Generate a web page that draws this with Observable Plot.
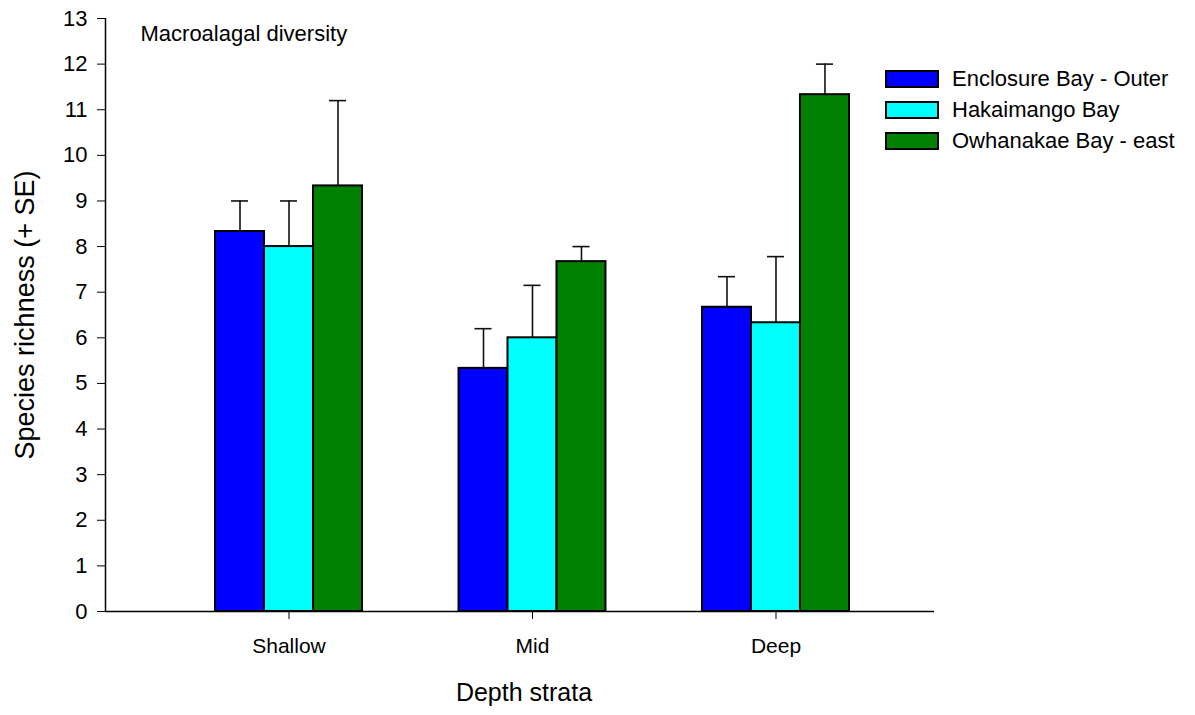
<!DOCTYPE html>
<html><head><meta charset="utf-8">
<script src="https://cdn.jsdelivr.net/npm/d3@7"></script>
<script src="https://cdn.jsdelivr.net/npm/@observablehq/plot@0.6"></script>
<style>
body{margin:0;background:#fff;font-family:"Liberation Sans",Arial,sans-serif;}
#wrap{position:relative;width:1195px;height:715px;}
.legend{position:absolute;left:885px;top:63px;}
.row{display:flex;align-items:center;height:31px;font-size:22px;color:#000;}
.sw{box-sizing:border-box;width:54px;height:18px;border:2px solid #000;margin-right:13px;}
</style></head><body><div id="wrap"></div>
<script>
const depths = ["Shallow", "Mid", "Deep"];
const sites = ["Enclosure Bay - Outer", "Hakaimango Bay", "Owhanakae Bay - east"];
const siteColors = ["#0000ff", "#00ffff", "#008000"];
// means per depth, in site order
const shallowMean = [8.33, 8.0, 9.33];
const midMean = [5.33, 6.0, 7.67];
const deepMean = [6.67, 6.33, 11.33];
// standard errors per depth, in site order
const shallowSE = [0.67, 1.0, 1.87];
const midSE = [0.87, 1.15, 0.33];
const deepSE = [0.67, 1.45, 0.67];
const yTicks = [0,1,2,3,4,5,6,7,8,9,10,11,12,13];

const means = [shallowMean, midMean, deepMean];
const ses = [shallowSE, midSE, deepSE];
const barW = 0.2012;
const capHalf = 0.035;
const table = depths.flatMap((dep, i) => sites.map((s, j) => ({
  depth: dep, site: s, mean: means[i][j], upper: means[i][j] + ses[i][j],
  xc: i + 1 + (j - 1) * barW
})));
const xDomain = [0.2464, 3.651];

const chart = Plot.plot({
  width: 1195, height: 715,
  marginLeft: 105, marginRight: 261, marginTop: 18, marginBottom: 104,
  style: {fontFamily: "'Liberation Sans', Arial, sans-serif", fontSize: "20px", color: "#000", background: "#fff"},
  x: {domain: xDomain},
  y: {domain: [0, 13]},
  color: {domain: sites, range: siteColors},
  marks: [
    Plot.ruleX(table, {x: "xc", y1: "mean", y2: "upper", stroke: "#111", strokeWidth: 1.6}),
    Plot.ruleY(table, {y: "upper", x1: d => d.xc - capHalf, x2: d => d.xc + capHalf, stroke: "#111", strokeWidth: 1.6}),
    Plot.rectY(table, {x1: d => d.xc - barW / 2, x2: d => d.xc + barW / 2, y1: 0, y2: "mean", fill: "site", stroke: "#000", strokeWidth: 2}),
    Plot.ruleX([xDomain[0]], {stroke: "#000", strokeWidth: 1.5}),
    Plot.ruleY([0], {stroke: "#000", strokeWidth: 1.5}),
    Plot.axisY({ticks: yTicks, tickSize: 8, tickPadding: 10, fontSize: 22, label: null, stroke: "#000"}),
    Plot.axisX({ticks: [1, 2, 3], tickFormat: i => depths[i - 1], tickSize: 8, tickPadding: 19, fontSize: 21, label: null, stroke: "#000"}),
    Plot.text(["Macroalagal diversity"], {text: d => d, frameAnchor: "top-left", dx: 35, dy: 7, textAnchor: "start", lineAnchor: "top", fontSize: 22, fill: "#000"}),
    Plot.text(["Species richness (+ SE)"], {text: d => d, frameAnchor: "left", textAnchor: "middle", lineAnchor: "middle", rotate: -90, dx: -80, fontSize: 27, fill: "#000"}),
    Plot.text(["Depth strata"], {text: d => d, frameAnchor: "bottom", textAnchor: "middle", dx: 4, dy: 89, fontSize: 25, fill: "#000"})
  ]
});
const wrap = document.getElementById("wrap");
wrap.appendChild(chart);
const leg = document.createElement("div");
leg.className = "legend";
sites.forEach((s, j) => {
  const r = document.createElement("div"); r.className = "row";
  const sw = document.createElement("div"); sw.className = "sw"; sw.style.background = siteColors[j];
  const t = document.createElement("span"); t.textContent = s;
  r.appendChild(sw); r.appendChild(t); leg.appendChild(r);
});
wrap.appendChild(leg);
</script></body></html>
